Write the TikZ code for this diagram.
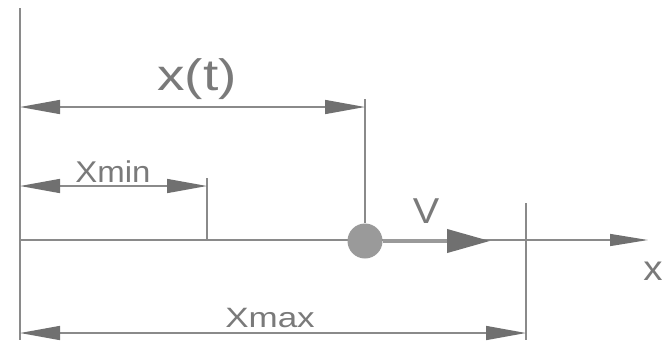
\documentclass[tikz,border=0pt]{standalone}
\usepackage{fontspec}
\setmainfont{Liberation Sans}[FakeStretch=1.1]
\newfontfamily\widefont{Liberation Sans}[FakeStretch=1.25]
\usetikzlibrary{arrows.meta}
\definecolor{ln}{HTML}{8A8A8A}
\definecolor{ah}{HTML}{707070}
\definecolor{tx}{HTML}{7A7A7A}
\definecolor{ball}{HTML}{9A9A9A}
\begin{document}
\begin{tikzpicture}[x=1pt,y=-1pt,
  thin line/.style={draw=ln, line width=1.3pt},
  dimline/.style={draw=ln, line width=1.5pt, {Triangle[length=40pt,width=14pt,color=ah]}-{Triangle[length=40pt,width=14pt,color=ah]}},
  lbl/.style={text=tx, inner sep=0pt, anchor=base}]
\useasboundingbox (0,0) rectangle (668,341);
% named points
\coordinate (Ltop) at (20,8);
\coordinate (Lbot) at (20,340);
\coordinate (Axs) at (20,240);
\coordinate (Axe) at (648,240);
\coordinate (XtL) at (20,107);
\coordinate (XtR) at (365,107);
\coordinate (XtTop) at (365,99);
\coordinate (XminL) at (20,186);
\coordinate (XminR) at (207,186);
\coordinate (XminTop) at (207,178);
\coordinate (XminBot) at (207,240);
\coordinate (XmaxTop) at (526,203);
\coordinate (XmaxBot) at (526,340);
\coordinate (XmaxL) at (20,333);
\coordinate (XmaxR) at (526,333);
\coordinate (Vend) at (490,241);
% lines
\draw[thin line] (Ltop) -- (Lbot);
\draw[thin line, -{Triangle[length=38pt,width=12pt,color=ah]}] (Axs) -- (Axe);
\draw[thin line] (XminTop) -- (XminBot);
\draw[thin line] (XmaxTop) -- (XmaxBot);
% ball
\node[circle, fill=ball, minimum size=35pt, inner sep=0pt] (P) at (365,241) {};
\draw[thin line] (XtTop) -- (P.north);
\draw[draw=ball, line width=4pt, -{Triangle[length=43pt,width=23pt,color=ah]}] (P.east) -- (Vend);
% dimension lines
\draw[dimline] (XtL) -- (XtR);
\draw[dimline] (XminL) -- (XminR);
\draw[dimline] (XmaxL) -- (XmaxR);
% labels
\node[lbl, font=\widefont\fontsize{44}{44}\selectfont] (txt) at (197,90) {x(t)};
\node[lbl, font=\fontsize{30}{30}\selectfont] (tmin) at (113,182) {Xmin};
\node[lbl, font=\widefont\fontsize{28}{28}\selectfont] (tmax) at (270,327) {Xmax};
\node[lbl, font=\fontsize{36}{36}\selectfont] (tv) at (426,223) {V};
\node[lbl, font=\fontsize{35}{35}\selectfont] (tx) at (653,280) {x};
\end{tikzpicture}
\end{document}
